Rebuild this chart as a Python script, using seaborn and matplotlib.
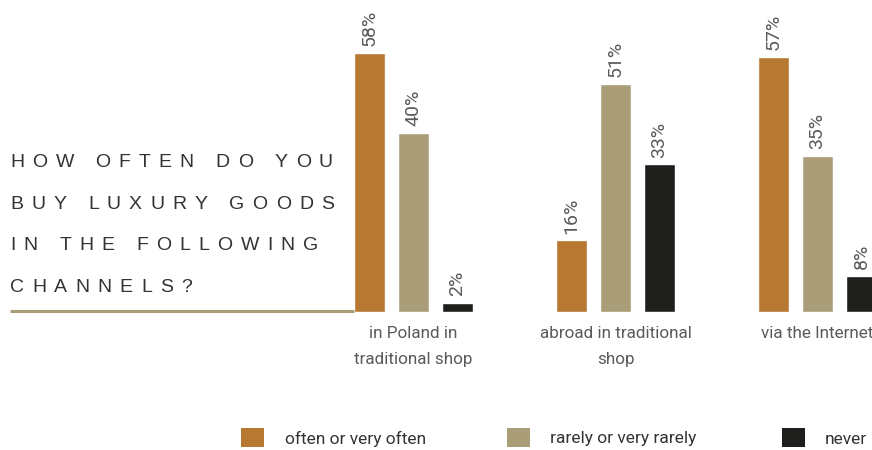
import numpy as np
import pandas as pd
import seaborn as sns
import matplotlib
matplotlib.use("Agg")
import matplotlib.pyplot as plt
from matplotlib.patches import Rectangle
from matplotlib.lines import Line2D
from matplotlib.font_manager import FontProperties, findfont
from matplotlib.ft2font import FT2Font

# ---- data ----
channels = ["in Poland in\ntraditional shop", "abroad in traditional\nshop", "via the Internet"]
frequencies = ["often or very often", "rarely or very rarely", "never"]
often = [58, 16, 57]
rarely = [40, 51, 35]
never = [2, 33, 8]
colors = ["#B77831", "#A99E78", "#1E1E1D"]
title_lines = ["HOW OFTEN DO YOU", "BUY LUXURY GOODS", "IN THE FOLLOWING", "CHANNELS?"]

series = [often, rarely, never]
df = pd.DataFrame({
    "channel": channels * len(frequencies),
    "frequency": np.repeat(frequencies, len(channels)),
    "share": often + rarely + never,
})

sns.set_theme(style="white")
label_font = FontProperties(family=["Roboto", "DejaVu Sans"])

W, H = 872, 450
fig = plt.figure(figsize=(W / 100, H / 100), dpi=100)
fig.patch.set_facecolor("white")

base_px = 312          # baseline of the bars, pixels from the top
px_per_pct = 4.47      # vertical scale
group_px = 202         # distance between channel groups
first_px = 413.5       # centre of the first channel group

ax = fig.add_axes([0, (H - base_px) / H, 1, base_px / H])
sns.barplot(data=df, x="channel", y="share", hue="frequency", palette=colors,
            width=0.6535, gap=0.295, saturation=1, legend=False, ax=ax)
ax.set_xlim(-first_px / group_px, (W - first_px) / group_px)
ax.set_ylim(0, base_px / px_per_pct)
ax.set_facecolor("none")
for s in ax.spines.values():
    s.set_visible(False)
ax.set_yticks([])
ax.set_xlabel("")
ax.set_ylabel("")
ax.tick_params(axis="x", length=0, pad=10, labelcolor="#5a5a5a")
for lab in ax.get_xticklabels():
    lab.set_fontproperties(label_font)
    lab.set_fontsize(12.3)
    lab.set_linespacing(1.95)

# value labels above the bars
for cont, vals in zip(ax.containers, series):
    ax.bar_label(cont, labels=[f"{v}%" for v in vals], rotation=90, padding=5,
                 fontproperties=label_font, fontsize=14, color="#5a5a5a")

# thin rule under the question
fig.add_artist(Line2D([10 / W, 354 / W], [1 - 310.5 / H] * 2, transform=fig.transFigure,
                      color="#A99E78", lw=2.2, solid_capstyle="butt"))

# letter-spaced question on the left
title_fp = FontProperties(family="Liberation Sans", size=14)
ft = FT2Font(findfont(title_fp))
ft.set_size(14, 100)


def advance(ch):
    g = ft.load_char(ord(ch))
    return g.linearHoriAdvance / 65536.0


ref = title_lines[0]
tracking = (323 - sum(advance(c) for c in ref)) / (len(ref) - 1)
baselines = [167, 208.5, 250, 292]
for line, yb in zip(title_lines, baselines):
    x = 10.0
    for ch in line:
        if ch != " ":
            fig.text(x / W, 1 - yb / H, ch, fontproperties=title_fp,
                     color="#333333", va="baseline", ha="left")
        x += advance(ch) + tracking

# legend
sq_x = [241, 507, 782]
txt_x = [285, 550, 825]
for lab, col, sx, tx in zip(frequencies, colors, sq_x, txt_x):
    fig.add_artist(Rectangle((sx / W, 1 - 447 / H), 23 / W, 19 / H,
                             transform=fig.transFigure, color=col, lw=0))
    fig.text(tx / W, 1 - 439 / H, lab, va="center", ha="left", fontsize=12.5,
             family=["Roboto", "DejaVu Sans"], color="#333333")

fig.savefig("out.png", dpi=100, facecolor="white")
